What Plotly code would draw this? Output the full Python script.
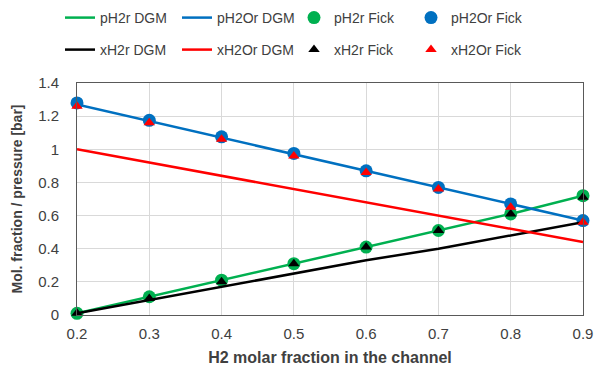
import plotly.graph_objects as go

x = [0.2, 0.3, 0.4, 0.5, 0.6, 0.7, 0.8, 0.9]
x_ticks = [0.2, 0.3, 0.4, 0.5, 0.6, 0.7, 0.8, 0.9]
x_ticklabels = ["0.2", "0.3", "0.4", "0.5", "0.6", "0.7", "0.8", "0.9"]
pH2r_dgm = [0.01, 0.11, 0.21, 0.31, 0.41, 0.51, 0.61, 0.72]
pH2Or_dgm = [1.27, 1.17, 1.07, 0.97, 0.87, 0.77, 0.67, 0.57]
xH2r_dgm = [0.01, 0.09, 0.17, 0.25, 0.33, 0.40, 0.48, 0.56]
xH2Or_dgm = [1.00, 0.92, 0.84, 0.76, 0.68, 0.60, 0.52, 0.44]
pH2r_fick = [0.01, 0.11, 0.21, 0.31, 0.41, 0.51, 0.61, 0.72]
pH2Or_fick = [1.28, 1.175, 1.075, 0.975, 0.87, 0.77, 0.67, 0.57]
xH2r_fick = [0.01, 0.10, 0.20, 0.31, 0.41, 0.51, 0.61, 0.71]
xH2Or_fick = [1.26, 1.16, 1.06, 0.96, 0.86, 0.76, 0.65, 0.56]

GREEN = "#00b050"
BLUE = "#0070c0"
BLACK = "#000000"
RED = "#ff0000"
FONT = "Liberation Sans, Arial, sans-serif"

fig = go.Figure()

def line(name, y, color, legend):
    fig.add_trace(go.Scatter(x=x, y=y, mode="lines", name=name, legend=legend,
                             line=dict(color=color, width=2.5), cliponaxis=False))

def mark(name, y, color, symbol, size, legend):
    fig.add_trace(go.Scatter(x=x, y=y, mode="markers", name=name, legend=legend,
                             marker=dict(color=color, symbol=symbol, size=size),
                             cliponaxis=False))

line("pH2r DGM", pH2r_dgm, GREEN, "legend")
line("pH2Or DGM", pH2Or_dgm, BLUE, "legend")
line("xH2r DGM", xH2r_dgm, BLACK, "legend2")
line("xH2Or DGM", xH2Or_dgm, RED, "legend2")
mark("pH2r Fick", pH2r_fick, GREEN, "circle", 13, "legend")
mark("pH2Or Fick", pH2Or_fick, BLUE, "circle", 13, "legend")
mark("xH2r Fick", xH2r_fick, BLACK, "triangle-up", 10, "legend2")
mark("xH2Or Fick", xH2Or_fick, RED, "triangle-up", 10, "legend2")

order = [0, 1, 4, 5, 2, 3, 6, 7]
fig.data = tuple(fig.data[i] for i in order)

legend_common = dict(orientation="h", xref="container", yref="container",
                     xanchor="left", yanchor="middle", bgcolor="rgba(0,0,0,0)",
                     font=dict(family=FONT, size=14, color="#404040"),
                     entrywidth=72, entrywidthmode="pixels", traceorder="normal",
                     itemwidth=30)

fig.update_layout(
    width=596, height=374,
    margin=dict(l=77, r=13, t=83, b=59),
    paper_bgcolor="white", plot_bgcolor="white",
    font=dict(family=FONT, size=15, color="#404040"),
    showlegend=True,
    legend=dict(x=60/596, y=1-18/374, **legend_common),
    legend2=dict(x=60/596, y=1-50/374, **legend_common),
    xaxis=dict(range=[0.2, 0.9], tickvals=x_ticks, ticktext=x_ticklabels, showgrid=True,
               gridcolor="#d9d9d9", gridwidth=1, showline=True, linecolor="#595959",
               linewidth=1, mirror=True, ticks="", zeroline=False,
               ticklabeloverflow="allow", automargin=False,
               tickfont=dict(size=15, color="#404040"), ticklabelstandoff=5,
               title=dict(text="<b>H2 molar fraction in the channel</b>",
                          font=dict(size=16, color="#404040"), standoff=10)),
    yaxis=dict(range=[0, 1.4], dtick=0.2, showgrid=True,
               gridcolor="#d9d9d9", gridwidth=1, showline=True, linecolor="#595959",
               linewidth=1, mirror=True, ticks="", zeroline=False, automargin=False,
               tickfont=dict(size=15, color="#404040"), ticklabelstandoff=14,
               title=dict(text="<b>Mol. fraction / pressure [bar]</b>",
                          font=dict(size=14, color="#404040"), standoff=12)),
)

fig.write_html("out.html")
